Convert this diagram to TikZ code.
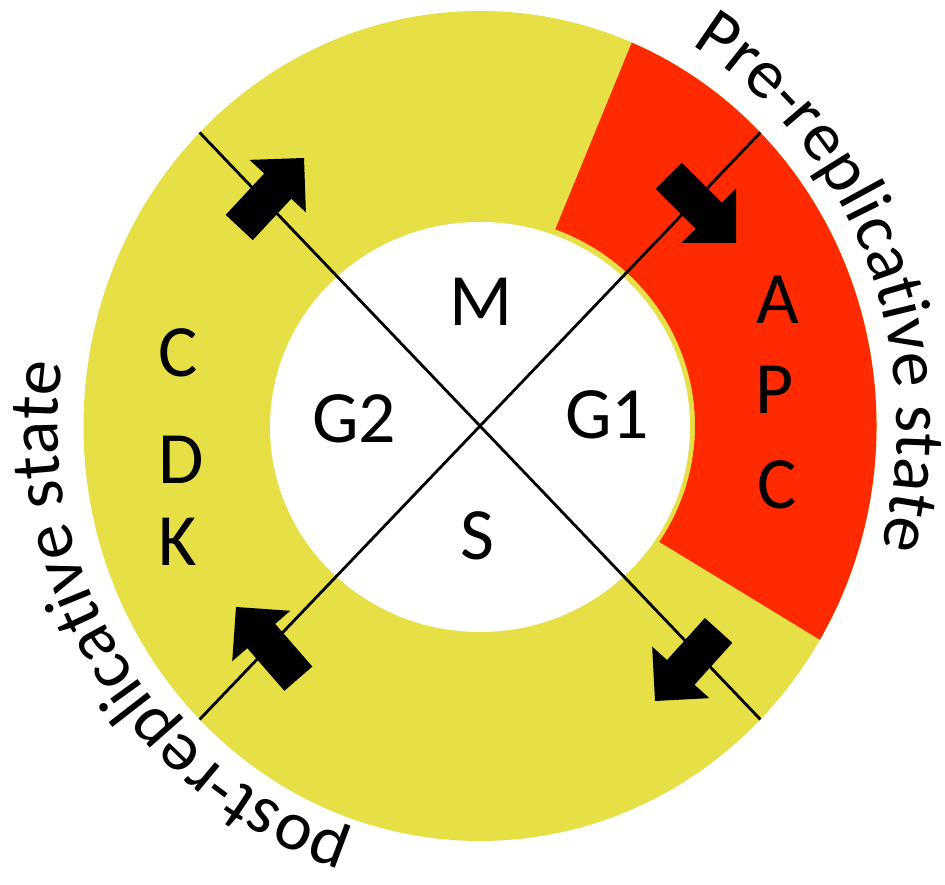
\documentclass[tikz,border=0pt]{standalone}
\usepackage{fontspec}
\setmainfont{Carlito}
\usetikzlibrary{calc,decorations.text}
\definecolor{cdkyellow}{RGB}{230,224,70}
\definecolor{apcred}{RGB}{255,42,0}
\tikzset{
  phase/.style={font=\fontsize{21}{25}\selectfont, inner sep=0pt},
  turn/.pic={\fill[black] (0,0) -- (-0.385,0.385) -- (-0.385,0.185) -- (-0.95,0.185)
    -- (-0.95,-0.185) -- (-0.385,-0.185) -- (-0.385,-0.385) -- cycle;},
  statetext/.style={decorate, decoration={text along path, text align=center,
    text={|\fontsize{20}{22}\selectfont|#1}}}
}
\begin{document}
\begin{tikzpicture}
\useasboundingbox (0,0) rectangle (9.45,8.84);
\coordinate (c) at (4.80,4.58);
\fill[cdkyellow] (c) ellipse [x radius=3.965, y radius=4.15];
\fill[apcred] (c) ++(-31:3.965 and 4.15) arc[start angle=-31, end angle=67.5, x radius=3.965, y radius=4.15]
  -- ($(c)+(69.5:2.15 and 2.10)$) arc[start angle=69.5, end angle=-33.5, x radius=2.15, y radius=2.10] -- cycle;
\fill[white] (4.80,4.57) ellipse [x radius=2.10, y radius=2.05];
\coordinate (tl) at ($(c)+(135:3.965 and 4.15)$);
\coordinate (tr) at ($(c)+(45:3.965 and 4.15)$);
\coordinate (bl) at ($(c)+(225:3.965 and 4.15)$);
\coordinate (br) at ($(c)+(315:3.965 and 4.15)$);
\draw[line width=0.8pt] (tl) -- (br);
\draw[line width=0.8pt] (tr) -- (bl);
\pic[rotate=47] (a1) at (3.04,7.26) {turn};
\pic[rotate=-45] (a2) at (7.36,6.41) {turn};
\pic[rotate=131] (a3) at (2.36,2.77) {turn};
\pic[rotate=-132] (a4) at (6.55,1.83) {turn};
\node[phase] (m) at (4.81,5.825) {M};
\node[phase] (g2) at (3.54,4.65) {G2};
\node[phase] (g1) at (6.07,4.69) {G1};
\node[phase] (s) at (4.77,3.485) {S};
\node[phase] (cdkc) at (1.78,5.31) {C};
\node[phase] (cdkd) at (1.81,4.245) {D};
\node[phase] (cdkk) at (1.78,3.42) {K};
\node[phase] (apca) at (7.775,5.84) {A};
\node[phase] (apcp) at (7.75,4.94) {P};
\node[phase] (apcc) at (7.77,3.99) {C};
\path[statetext={Pre-replicative state}] (c) ++(67:4.17 and 4.42) arc[start angle=67, end angle=-23, x radius=4.17, y radius=4.42];
\path[statetext={post-replicative state}] (c) ++(257:4.22 and 4.32) arc[start angle=257, end angle=167, x radius=4.22, y radius=4.32];
\end{tikzpicture}
\end{document}
